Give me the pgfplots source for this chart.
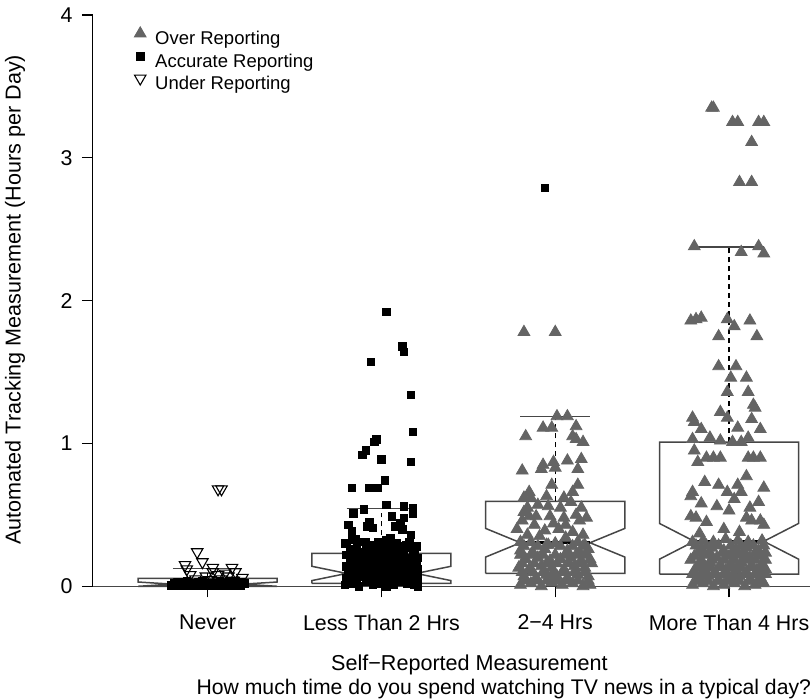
\documentclass[border=0pt]{standalone}
\usepackage{fontspec}
\setmainfont{Liberation Sans}
\usepackage{pgfplots}
\pgfplotsset{compat=1.18}
\definecolor{tri}{RGB}{100,100,100}
\definecolor{boxc}{RGB}{70,70,70}
\pgfplotsset{
  boxline/.style={boxc, line width=0.75pt, forget plot},
  whisk/.style={black, line width=0.6pt, dashed, dash pattern=on 2.5pt off 2pt, forget plot},
  capline/.style={boxc, line width=0.75pt, forget plot},
  medline/.style={black, line width=1.6pt, forget plot},
  over/.style={only marks, mark=triangle*, mark size=3.4pt, mark options={draw=tri, fill=tri}},
  accur/.style={only marks, mark=square*, mark size=1.9pt, mark options={draw=black, fill=black}},
  under/.style={only marks, mark=triangle, mark size=3.3pt, mark options={rotate=180, draw=black, line width=0.55pt}},
}
\begin{document}
\begin{tikzpicture}
\begin{axis}[
  scale only axis, width=359pt, height=293.5pt,
  xmin=0.34, xmax=4.466, ymin=0, ymax=4.105,
  axis lines*=left, axis line style={draw=none},
  clip=false,
  xtick={1,2,3,4},
  xticklabels={Never, Less Than 2 Hrs, 2−4 Hrs, More Than 4 Hrs},
  ytick={0,1,2,3,4},
  tick align=outside, major tick length=5.5pt,
  tick style={black, line width=0.6pt},
  xticklabel style={font=\fontsize{10.7}{12}\selectfont, inner sep=0pt, anchor=north, yshift=-8.5pt},
  yticklabel style={font=\fontsize{10.7}{12}\selectfont, inner sep=0pt, anchor=east, xshift=-4.5pt,
    /pgf/number format/assume math mode=true},
  every axis y label/.style={at={(axis description cs:-0.1086,0.489)}, rotate=90, anchor=center,
    font=\fontsize{10.8}{12}\selectfont, inner sep=0pt},
  ylabel={Automated Tracking Measurement (Hours per Day)},
  legend style={at={(axis description cs:0.0557,0.955)}, anchor=north west, draw=none, fill=none,
    inner sep=0pt, font=\fontsize{9.25}{11}\selectfont, row sep=1.75pt,
    nodes={inner sep=0pt, text height=7pt, text depth=2pt}},
  legend cell align=left,
  legend image code/.code={\path[draw=none, fill=none] (0pt,0pt) rectangle (11pt,1pt); \draw[#1] plot coordinates {(3.5pt,3.2pt)};},
]
% page extent
\path[draw=none] (axis cs:-0.1945,-0.790) rectangle (axis cs:4.466,4.105);
% axis lines
\addplot[black, line width=0.6pt, forget plot] coordinates {(0.34,0) (0.34,4)};
\addplot[boxc, line width=0.6pt, forget plot] coordinates {(0.34,0) (4.466,0)};

% notched boxes
\addplot[boxline] coordinates {(0.6,0) (0.6,0) (0.8,0.015) (0.6,0.03) (0.6,0.055) (1.4,0.055) (1.4,0.03) (1.2,0.015) (1.4,0) (1.4,0) (0.6,0)};
\addplot[boxline] coordinates {(1.6,0.02) (1.6,0.04) (1.8,0.09) (1.6,0.14) (1.6,0.23) (2.4,0.23) (2.4,0.14) (2.2,0.09) (2.4,0.04) (2.4,0.02) (1.6,0.02)};
\addplot[boxline] coordinates {(2.6,0.09) (2.6,0.205) (2.8,0.305) (2.6,0.405) (2.6,0.595) (3.4,0.595) (3.4,0.405) (3.2,0.305) (3.4,0.205) (3.4,0.09) (2.6,0.09)};
\addplot[boxline] coordinates {(3.6,0.085) (3.6,0.19) (3.8,0.315) (3.6,0.44) (3.6,1.01) (4.4,1.01) (4.4,0.44) (4.2,0.315) (4.4,0.19) (4.4,0.085) (3.6,0.085)};
% whiskers
\addplot[whisk] coordinates {(1,0.055) (1,0.125)};
\addplot[whisk] coordinates {(2,0.23) (2,0.545)};
\addplot[whisk] coordinates {(3,0.595) (3,1.19)};
\addplot[whisk] coordinates {(4,1.01) (4,2.375)};
\addplot[capline] coordinates {(0.8,0.125) (1.2,0.125)};
\addplot[capline] coordinates {(1.8,0.545) (2.2,0.545)};
\addplot[capline] coordinates {(2.8,1.19) (3.2,1.19)};
\addplot[capline] coordinates {(3.8,2.375) (4.2,2.375)};

% Over Reporting (2-4 Hrs and More Than 4 Hrs)
\addplot[over] table {
x y
2.82 1.78
3.00 1.78
3.01 1.19
3.07 1.19
2.93 1.11
2.98 1.11
3.12 1.12
2.83 1.05
3.10 1.05
3.12 1.03
3.16 1.01
3.07 0.88
3.15 0.89
2.99 0.87
2.93 0.85
2.92 0.82
2.81 0.81
3.13 0.82
3.00 0.83
2.98 0.71
3.13 0.71
3.10 0.66
2.85 0.66
2.82 0.62
2.86 0.62
2.95 0.63
3.05 0.62
2.96 0.56
3.09 0.59
2.84 0.55
2.90 0.57
3.03 0.55
3.15 0.55
2.82 0.52
2.85 0.49
2.89 0.49
2.97 0.49
3.05 0.48
3.12 0.50
3.18 0.48
2.81 0.46
3.14 0.46
2.88 0.43
2.99 0.44
3.06 0.43
2.78 0.40
2.94 0.39
3.02 0.40
3.10 0.38
2.84 0.36
2.91 0.35
3.06 0.34
3.16 0.36
2.80 0.31
2.96 0.29
3.13 0.31
3.17 0.29
2.80 0.01
2.86 0.02
2.92 0.00
2.98 0.03
3.04 0.01
3.10 0.02
3.16 0.00
3.20 0.01
2.83 0.04
2.89 0.04
2.95 0.04
3.01 0.04
3.07 0.04
3.13 0.04
3.19 0.04
2.82 0.07
2.89 0.06
2.95 0.08
3.01 0.07
3.07 0.06
3.13 0.08
3.19 0.07
2.81 0.10
2.87 0.10
2.93 0.10
2.99 0.10
3.05 0.10
3.11 0.10
3.17 0.10
2.79 0.13
2.85 0.12
2.92 0.14
2.98 0.13
3.05 0.12
3.11 0.14
3.17 0.13
2.81 0.16
2.88 0.16
2.95 0.16
3.01 0.16
3.08 0.16
3.14 0.16
3.21 0.16
2.83 0.19
2.90 0.20
2.97 0.18
3.03 0.19
3.09 0.20
3.15 0.18
3.20 0.19
2.80 0.22
2.86 0.22
2.93 0.22
3.00 0.22
3.06 0.22
3.12 0.22
3.18 0.22
2.80 0.25
2.87 0.24
2.94 0.26
3.07 0.25
3.14 0.24
3.19 0.26
2.82 0.28
2.90 0.28
3.03 0.28
3.10 0.28
3.16 0.28
2.86 0.31
2.95 0.29
3.00 0.30
3.90 3.35
3.91 3.35
4.02 3.25
4.05 3.25
4.17 3.25
4.20 3.25
4.13 3.11
4.06 2.83
4.13 2.83
3.80 2.38
4.17 2.38
4.07 2.34
4.20 2.33
3.78 1.86
3.81 1.87
3.84 1.88
3.99 1.87
4.03 1.82
4.12 1.86
3.94 1.75
4.16 1.75
3.94 1.54
4.04 1.54
4.01 1.46
4.10 1.46
3.99 1.36
4.11 1.36
4.14 1.27
4.15 1.25
3.95 1.22
3.99 1.18
3.79 1.18
3.80 1.15
4.13 1.17
3.84 1.10
4.05 1.11
4.18 1.10
3.89 1.04
3.95 1.02
4.02 1.01
4.07 1.01
4.11 1.04
3.79 1.03
3.80 0.95
3.87 0.90
3.91 0.90
3.95 0.90
3.82 0.87
4.11 0.90
4.14 0.90
4.18 0.90
4.10 0.77
3.86 0.73
3.94 0.71
3.99 0.66
4.05 0.71
4.07 0.66
4.03 0.61
4.20 0.69
3.79 0.66
3.78 0.63
4.17 0.59
3.78 0.49
3.81 0.48
3.87 0.45
4.10 0.48
4.13 0.46
4.18 0.46
4.20 0.43
3.93 0.56
4.00 0.53
3.84 0.58
4.12 0.55
3.97 0.40
4.06 0.38
3.83 0.37
3.79 0.01
3.85 0.02
3.91 0.00
3.97 0.01
4.03 0.02
4.09 0.00
4.15 0.01
4.20 0.02
3.82 0.035
3.88 0.035
3.94 0.035
4.00 0.035
4.06 0.035
4.12 0.035
4.18 0.035
3.82 0.06
3.88 0.07
3.94 0.05
4.00 0.06
4.06 0.07
4.12 0.05
4.18 0.06
3.79 0.085
3.85 0.085
3.91 0.085
3.97 0.085
4.03 0.085
4.09 0.085
4.15 0.085
4.21 0.085
3.80 0.11
3.86 0.12
3.92 0.10
3.98 0.11
4.04 0.12
4.10 0.10
4.16 0.11
4.21 0.12
3.82 0.135
3.89 0.135
3.95 0.135
4.01 0.135
4.07 0.135
4.13 0.135
4.19 0.135
3.83 0.16
3.89 0.17
3.95 0.15
4.01 0.16
4.07 0.17
4.13 0.15
4.19 0.16
3.78 0.185
3.84 0.185
3.90 0.185
3.97 0.185
4.03 0.185
4.09 0.185
4.15 0.185
4.21 0.185
3.80 0.21
3.86 0.22
3.93 0.20
4.00 0.21
4.06 0.22
4.12 0.20
4.18 0.21
3.82 0.235
3.89 0.235
3.96 0.235
4.02 0.235
4.09 0.235
4.15 0.235
4.21 0.235
3.84 0.26
3.90 0.27
3.97 0.25
4.04 0.26
4.10 0.27
4.17 0.25
3.81 0.285
3.87 0.285
3.94 0.285
4.01 0.285
4.07 0.285
4.14 0.285
4.20 0.285
3.79 0.31
3.85 0.32
3.91 0.31
3.98 0.33
4.05 0.32
4.11 0.31
4.19 0.32
};
\addlegendentry{Over Reporting}

% Accurate Reporting
\addplot[accur] table {
x y
0.79 0.005
0.84 0.005
0.89 0.005
0.94 0.005
0.99 0.005
1.04 0.005
1.09 0.005
1.14 0.005
1.19 0.005
0.81 0.02
0.86 0.02
0.91 0.02
0.96 0.02
1.01 0.02
1.06 0.02
1.11 0.02
1.16 0.02
1.21 0.02
0.88 0.035
0.97 0.035
1.07 0.035
1.13 0.035
2.03 1.92
2.12 1.68
2.13 1.64
1.94 1.57
2.17 1.34
2.18 1.08
1.97 1.03
1.96 1.01
1.91 0.95
1.89 0.92
2.00 0.89
2.17 0.87
2.02 0.74
1.83 0.69
1.93 0.69
1.98 0.69
2.03 0.57
2.13 0.56
2.18 0.545
2.18 0.51
1.90 0.54
1.84 0.51
2.06 0.49
2.13 0.48
1.81 0.43
1.93 0.45
1.95 0.41
1.92 0.42
1.83 0.385
2.08 0.42
2.12 0.40
2.11 0.44
1.83 0.35
1.79 0.30
1.91 0.31
1.98 0.31
2.14 0.29
1.85 0.33
2.05 0.34
2.17 0.36
1.79 0.01
1.83 0.02
1.87 0.00
1.91 0.03
1.95 0.01
1.99 0.02
2.03 0.00
2.07 0.01
2.11 0.03
2.15 0.02
2.19 0.01
2.21 0.00
1.81 0.035
1.86 0.035
1.93 0.035
1.97 0.035
2.01 0.035
2.05 0.035
2.09 0.035
2.13 0.035
2.17 0.035
2.20 0.035
1.80 0.06
1.85 0.05
1.90 0.07
1.94 0.05
1.98 0.06
2.02 0.07
2.06 0.05
2.10 0.06
2.14 0.07
2.18 0.05
2.21 0.06
1.83 0.08
1.88 0.08
1.96 0.08
2.00 0.08
2.04 0.08
2.12 0.08
2.16 0.08
2.19 0.08
1.81 0.10
1.86 0.09
1.92 0.11
1.97 0.10
2.01 0.09
2.05 0.11
2.09 0.10
2.13 0.09
2.17 0.11
2.20 0.10
1.84 0.12
1.90 0.12
1.95 0.12
2.03 0.12
2.07 0.12
2.11 0.12
2.15 0.12
2.21 0.12
1.80 0.14
1.88 0.13
1.93 0.15
1.98 0.14
2.04 0.13
2.08 0.15
2.12 0.14
2.16 0.13
2.20 0.15
1.85 0.16
1.91 0.16
1.96 0.16
2.02 0.16
2.10 0.16
2.14 0.16
2.18 0.16
1.82 0.18
1.89 0.17
1.95 0.19
2.00 0.18
2.06 0.17
2.11 0.19
2.15 0.18
2.19 0.17
1.84 0.20
1.91 0.20
1.98 0.20
2.05 0.20
2.09 0.20
2.16 0.20
2.21 0.20
1.80 0.22
1.87 0.21
1.94 0.23
2.02 0.22
2.07 0.21
2.13 0.23
2.18 0.22
1.82 0.24
1.89 0.24
1.97 0.24
2.04 0.24
2.12 0.24
2.19 0.24
1.84 0.26
1.91 0.25
1.99 0.27
2.05 0.26
2.10 0.25
2.17 0.27
1.86 0.28
1.94 0.28
2.01 0.28
2.07 0.28
2.13 0.28
2.20 0.28
1.80 0.30
1.88 0.31
1.96 0.29
2.03 0.32
2.09 0.30
2.16 0.31
2.94 2.79
};
\addlegendentry{Accurate Reporting}

% Under Reporting (Never)
\addplot[under] table {
x y
0.94 0.24
0.97 0.17
0.87 0.15
0.88 0.12
1.03 0.13
1.14 0.13
1.03 0.10
1.10 0.09
1.16 0.10
0.90 0.08
0.99 0.07
1.06 0.08
1.12 0.07
1.20 0.06
0.93 0.05
1.01 0.045
1.08 0.05
1.15 0.04
0.84 0.03
0.96 0.03
1.18 0.03
1.06 0.68
1.08 0.68
};
\addlegendentry{Under Reporting}

% medians on top
\addplot[medline] coordinates {(0.8,0.015) (1.2,0.015)};
\addplot[medline] coordinates {(1.8,0.09) (2.2,0.09)};
\addplot[medline] coordinates {(2.8,0.305) (3.2,0.305)};
\addplot[medline] coordinates {(3.8,0.315) (4.2,0.315)};

\node[font=\fontsize{10.8}{12}\selectfont, inner sep=0pt] at (axis description cs:0.525,-0.1335) {Self−Reported Measurement};
\node[font=\fontsize{10.6}{12}\selectfont, inner sep=0pt] at (axis description cs:0.573,-0.176) {How much time do you spend watching TV news in a typical day?};
\end{axis}
\end{tikzpicture}
\end{document}
